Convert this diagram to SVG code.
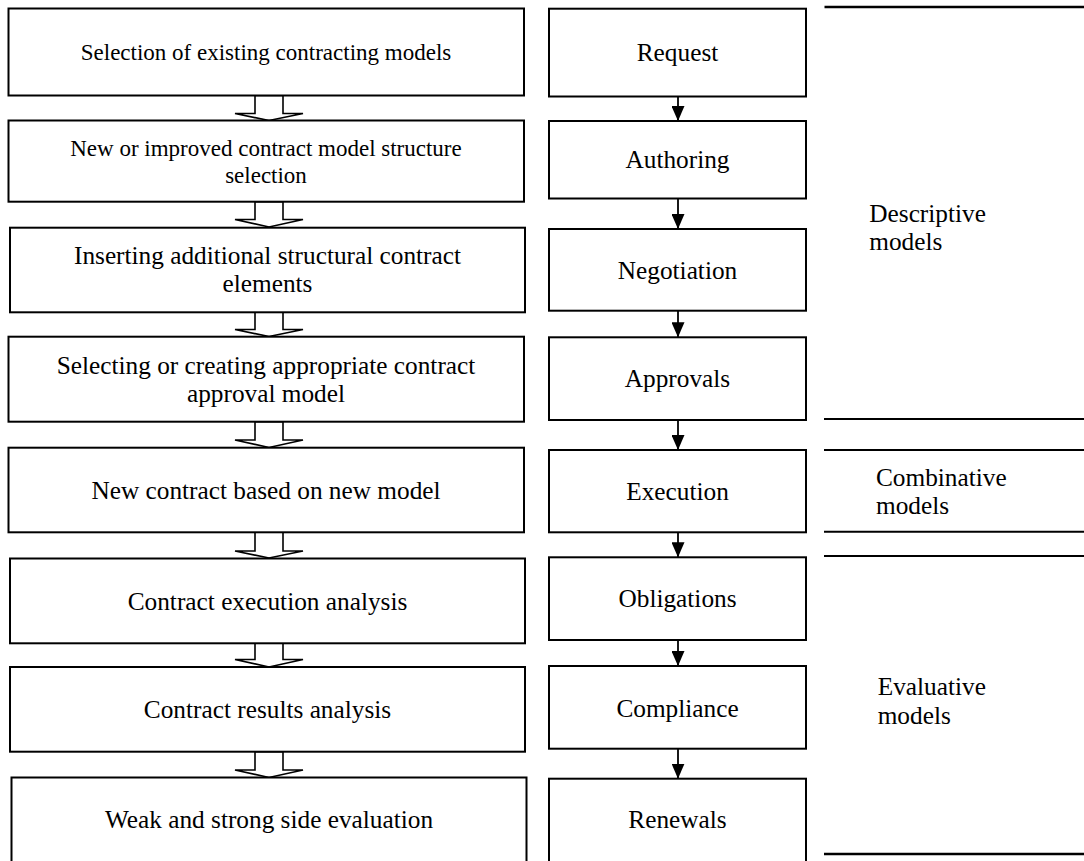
<svg xmlns="http://www.w3.org/2000/svg" width="1084" height="861" viewBox="0 0 1084 861">
<style>
.box{fill:#fff;stroke:#000;stroke-width:2}
text{font-family:'Liberation Serif',serif;fill:#000}
.t{font-size:25.3px;text-anchor:middle}
.ts{font-size:23px;text-anchor:middle}
.lbl{font-size:25.3px}
.ha{fill:#fff;stroke:#000;stroke-width:1.6;stroke-linejoin:miter}
.ar{stroke:#000;stroke-width:1.8;fill:none;marker-end:url(#tri)}
.sep{stroke:#000;stroke-width:2}
</style>
<defs>
<marker id="tri" markerUnits="userSpaceOnUse" viewBox="0 0 15 13" refX="15" refY="6.5" markerWidth="15" markerHeight="13" orient="auto">
<path d="M0,0 L15,6.5 L0,13 z" fill="#000"/>
</marker>
</defs>
<rect width="1084" height="861" fill="#fff"/>

<g id="connectors">
<polygon class="ha" points="255,95.5 255,113.5 235,113.5 269,120.5 303,113.5 283,113.5 283,95.5"/>
<polygon class="ha" points="255,201.7 255,219.5 235,219.5 269,227 303,219.5 283,219.5 283,201.7"/>
<polygon class="ha" points="255,312.3 255,329.5 235,329.5 269,336.5 303,329.5 283,329.5 283,312.3"/>
<polygon class="ha" points="255,421.7 255,440 235,440 269,447.5 303,440 283,440 283,421.7"/>
<polygon class="ha" points="255,532.3 255,551 235,551 269,558 303,551 283,551 283,532.3"/>
<polygon class="ha" points="255,643.3 255,659.5 235,659.5 269,667 303,659.5 283,659.5 283,643.3"/>
<polygon class="ha" points="255,751.7 255,770 235,770 269,777.5 303,770 283,770 283,751.7"/>
<line class="ar" x1="678" y1="96.5" x2="678" y2="121"/>
<line class="ar" x1="678" y1="198.5" x2="678" y2="229"/>
<line class="ar" x1="678" y1="310.7" x2="678" y2="337.3"/>
<line class="ar" x1="678" y1="420" x2="678" y2="450"/>
<line class="ar" x1="678" y1="532.3" x2="678" y2="557.3"/>
<line class="ar" x1="678" y1="640" x2="678" y2="666"/>
<line class="ar" x1="678" y1="748.7" x2="678" y2="778.7"/>
</g>

<g id="step1"><rect class="box" x="8.5" y="8.5" width="515.5" height="87"/><text class="ts" x="266" y="60">Selection of existing contracting models</text></g>
<g id="step2"><rect class="box" x="8.5" y="120.5" width="515.5" height="81.2"/><text class="ts" x="266" y="156">New or improved contract model structure</text><text class="ts" x="266" y="182.5">selection</text></g>
<g id="step3"><rect class="box" x="10" y="227.7" width="515" height="84.6"/><text class="t" x="267.5" y="264">Inserting additional structural contract</text><text class="t" x="267.5" y="292">elements</text></g>
<g id="step4"><rect class="box" x="8.5" y="336.7" width="515.5" height="85"/><text class="t" x="266" y="373.5">Selecting or creating appropriate contract</text><text class="t" x="266" y="401.5">approval model</text></g>
<g id="step5"><rect class="box" x="8.5" y="447.7" width="515.5" height="84.6"/><text class="t" x="266" y="498.5">New contract based on new model</text></g>
<g id="step6"><rect class="box" x="10" y="558.5" width="515" height="84.8"/><text class="t" x="267.5" y="609.5">Contract execution analysis</text></g>
<g id="step7"><rect class="box" x="10" y="667" width="515" height="84.7"/><text class="t" x="267.5" y="718">Contract results analysis</text></g>
<g id="step8"><rect class="box" x="11.5" y="777.5" width="515" height="90"/><text class="t" x="269" y="828">Weak and strong side evaluation</text></g>

<g id="request"><rect class="box" x="549" y="8.7" width="257" height="87.8"/><text class="t" x="677.5" y="61">Request</text></g>
<g id="authoring"><rect class="box" x="549" y="121" width="257" height="77.5"/><text class="t" x="677.5" y="168">Authoring</text></g>
<g id="negotiation"><rect class="box" x="549" y="229" width="257" height="81.7"/><text class="t" x="677.5" y="279">Negotiation</text></g>
<g id="approvals"><rect class="box" x="549" y="337.3" width="257" height="82.7"/><text class="t" x="677.5" y="387">Approvals</text></g>
<g id="execution"><rect class="box" x="549" y="450" width="257" height="82.3"/><text class="t" x="677.5" y="500">Execution</text></g>
<g id="obligations"><rect class="box" x="549" y="557.3" width="257" height="82.7"/><text class="t" x="677.5" y="607.3">Obligations</text></g>
<g id="compliance"><rect class="box" x="549" y="666" width="257" height="82.7"/><text class="t" x="677.5" y="716.5">Compliance</text></g>
<g id="renewals"><rect class="box" x="549" y="778.7" width="257" height="90"/><text class="t" x="677.5" y="828.3">Renewals</text></g>

<g id="descriptive">
<line class="sep" x1="824.5" y1="7" x2="1084" y2="7" style="stroke-width:2.5"/>
<text class="lbl" x="869.3" y="221.7">Descriptive</text>
<text class="lbl" x="869.3" y="250">models</text>
<line class="sep" x1="824" y1="419" x2="1084" y2="419"/>
</g>
<g id="combinative">
<line class="sep" x1="824" y1="450" x2="1084" y2="450"/>
<text class="lbl" x="876" y="485.5">Combinative</text>
<text class="lbl" x="876" y="513.5">models</text>
<line class="sep" x1="824" y1="531.7" x2="1084" y2="531.7"/>
</g>
<g id="evaluative">
<line class="sep" x1="824" y1="556" x2="1084" y2="556"/>
<text class="lbl" x="877.7" y="694.5">Evaluative</text>
<text class="lbl" x="877.7" y="723.5">models</text>
<line class="sep" x1="824" y1="854" x2="1084" y2="854" style="stroke-width:2.5"/>
</g>
</svg>
